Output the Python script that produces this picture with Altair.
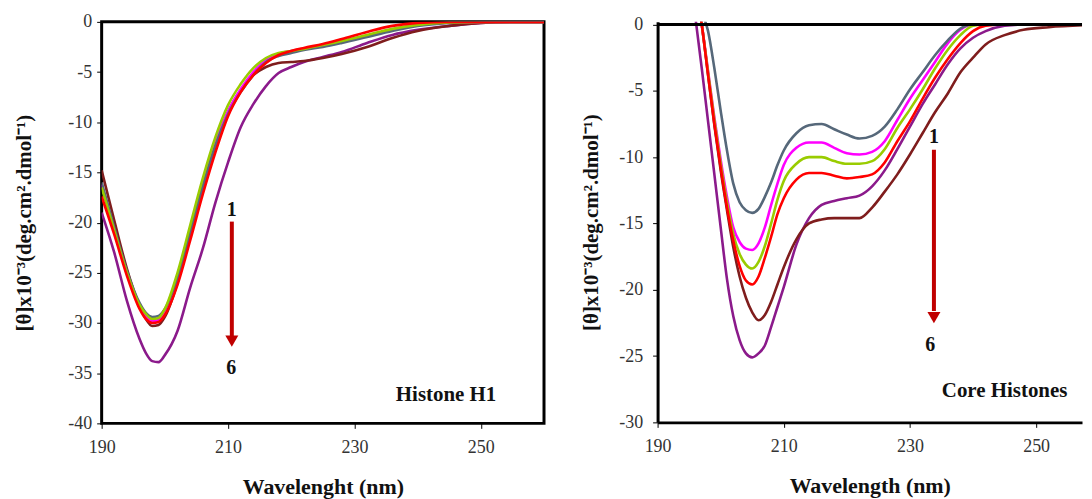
import altair as alt
import pandas as pd

SERIES = ["1", "2", "3", "4", "5", "6"]
COLORS = ["#56687a", "#ff00ff", "#99cc00", "#ff0000", "#7f1d1d", "#8b1a8b"]
DRAW_ORDER = ["6", "5", "2", "1", "3", "4"]

# ---------------- Histone H1 (left panel) ----------------
H1_WL = [190, 192, 194, 196, 197, 198, 199, 200, 202, 204, 206, 208, 210, 212,
         214, 216, 218, 220, 222, 225, 228, 232, 236, 240, 245, 250, 255, 260]
H1_S1 = [-16.0, -20.5, -24.8, -28.0, -29.0, -29.4, -29.3, -28.6, -25.5, -21.0, -16.4, -12.3, -9.2, -7.0,
         -5.3, -4.0, -3.4, -3.1, -2.8, -2.5, -2.1, -1.5, -0.9, -0.4, -0.1, 0.0, 0.0, 0.0]
H1_S2 = [-16.2, -20.7, -25.0, -28.3, -29.3, -29.8, -29.7, -28.9, -25.6, -21.0, -16.3, -12.1, -8.9, -6.7,
         -5.0, -3.8, -3.2, -2.9, -2.7, -2.4, -2.0, -1.4, -0.8, -0.3, -0.05, 0.0, 0.0, 0.0]
H1_S3 = [-16.5, -20.8, -25.0, -28.2, -29.1, -29.6, -29.5, -28.6, -25.0, -20.3, -15.6, -11.5, -8.3, -6.2,
         -4.6, -3.6, -3.1, -2.9, -2.7, -2.3, -1.9, -1.3, -0.7, -0.3, -0.05, 0.0, 0.0, 0.0]
H1_S4 = [-17.4, -21.2, -25.3, -28.6, -29.6, -30.0, -29.9, -29.2, -26.2, -21.8, -17.2, -13.0, -9.4, -7.0,
         -5.3, -4.1, -3.3, -2.9, -2.6, -2.2, -1.7, -1.0, -0.4, -0.1, 0.0, 0.0, 0.0, 0.0]
H1_S5 = [-14.8, -19.8, -24.6, -28.3, -29.6, -30.3, -30.2, -29.4, -26.0, -21.3, -16.6, -12.4, -9.0, -6.8,
         -5.3, -4.5, -4.1, -4.0, -3.9, -3.6, -3.2, -2.5, -1.6, -0.9, -0.4, -0.1, 0.0, 0.0]
H1_S6 = [-19.0, -23.0, -27.8, -31.6, -33.0, -33.8, -33.9, -33.2, -30.8, -26.5, -22.6, -18.0, -14.0, -10.5,
         -8.2, -6.4, -5.1, -4.5, -4.0, -3.5, -3.0, -2.1, -1.3, -0.8, -0.4, -0.1, 0.0, 0.0]

# ---------------- Core histones (right panel) ----------------
CORE_WL = [194, 195, 196, 197, 198, 199, 200, 201, 202, 203, 204, 205, 206, 207, 208, 209, 210,
           212, 214, 216, 218, 220, 222, 224, 226, 228, 230, 232, 234, 236, 238, 240, 242, 245,
           248, 252, 258]
CORE_S1 = [10.0, 6.0, 3.0, 1.0, -0.5, -3.3, -6.5, -9.5, -12.0, -13.4, -14.0, -14.2, -13.9, -13.0, -11.9, -10.6, -9.5,
           -8.2, -7.6, -7.5, -7.9, -8.3, -8.6, -8.4, -7.7, -6.4, -4.9, -3.6, -2.3, -1.2, -0.3, 0.0, 0.0, 0.0,
           0.0, 0.0, 0.0]
CORE_S2 = [10.0, 6.0, 3.0, 0.0, -3.5, -7.0, -10.2, -13.0, -15.3, -16.4, -16.9, -17.0, -16.5, -15.3, -13.6, -12.0, -10.6,
           -9.3, -8.9, -8.9, -9.3, -9.7, -9.8, -9.6, -8.8, -7.2, -5.6, -4.2, -2.8, -1.4, -0.4, 0.0, 0.0, 0.0,
           0.0, 0.0, 0.0]
CORE_S3 = [10.0, 6.0, 3.0, 0.0, -3.6, -7.2, -10.5, -13.4, -15.8, -17.3, -18.1, -18.4, -17.9, -16.7, -15.0, -13.2, -11.8,
           -10.5, -10.0, -10.0, -10.3, -10.5, -10.5, -10.3, -9.4, -7.8, -6.4, -4.9, -3.3, -1.9, -0.8, -0.1, 0.0, 0.0,
           0.0, 0.0, 0.0]
CORE_S4 = [10.0, 6.0, 3.0, 0.0, -3.8, -7.5, -10.8, -13.8, -16.3, -18.2, -19.3, -19.6, -19.0, -17.6, -16.0, -14.3, -13.1,
           -11.7, -11.2, -11.2, -11.4, -11.6, -11.5, -11.3, -10.4, -8.8, -7.3, -5.6, -4.0, -2.6, -1.4, -0.5, -0.1, 0.0,
           0.0, 0.0, 0.0]
CORE_S5 = [10.0, 6.0, 3.0, 0.0, -3.8, -7.6, -11.0, -14.0, -16.8, -19.0, -20.6, -21.7, -22.3, -21.9, -20.9, -19.6, -18.3,
           -16.2, -15.0, -14.7, -14.6, -14.6, -14.6, -13.8, -12.6, -11.3, -9.8, -8.2, -6.6, -5.2, -3.6, -2.5, -1.5, -0.8,
           -0.4, -0.2, -0.05]
CORE_S6 = [8.0, 4.0, 0.5, -3.3, -7.3, -11.3, -15.3, -19.2, -22.0, -23.8, -24.8, -25.1, -24.8, -24.2, -22.8, -21.3, -19.8,
           -16.6, -14.6, -13.6, -13.3, -13.1, -12.9, -12.2, -11.0, -9.4, -7.7, -6.0, -4.5, -3.0, -1.8, -1.0, -0.5, -0.1,
           0.0, 0.0, 0.0]

H1_TICKS_X = [190, 210, 230, 250]
H1_TICKS_Y = [-40, -35, -30, -25, -20, -15, -10, -5, 0]
CORE_TICKS_Y = [-30, -25, -20, -15, -10, -5, 0]

Y_TITLE = "[θ]x10⁻³(deg.cm².dmol⁻¹)"
SERIF = "Liberation Serif"
HYPHEN_LABEL = "replace(datum.label, '\u2212', '-')"


def long_df(wl, series_vals):
    rows = []
    lookup = dict(zip(SERIES, series_vals))
    for name in DRAW_ORDER:
        for w, v in zip(wl, lookup[name]):
            rows.append({"wl": w, "val": v, "s": name})
    return pd.DataFrame(rows)


def panel(df, xdom, ydom, yticks, xtitle, width, height, label, label_pos,
          arrow_x, arrow_top, arrow_bot, head_y, one_pos, six_pos, boxed, ylabel_pad, ytitle_pad):
    x_axis = alt.Axis(values=H1_TICKS_X, title=xtitle, grid=False, labelFlush=False,
                      domain=not boxed, domainColor="black", domainWidth=3,
                      tickColor="black", tickSize=5, tickWidth=1,
                      labelFont=SERIF, labelFontSize=18, labelColor="#333333", labelPadding=10,
                      titleFont=SERIF, titleFontSize=22, titleFontWeight="bold",
                      titleColor="#111111", titlePadding=20)
    y_axis = alt.Axis(values=yticks, title=Y_TITLE, grid=False, labelFlush=False,
                      domain=not boxed, domainColor="black", domainWidth=3,
                      tickColor="black", tickSize=5, tickWidth=1,
                      labelExpr=HYPHEN_LABEL,
                      labelFont=SERIF, labelFontSize=18, labelColor="#333333", labelPadding=ylabel_pad,
                      titleFont=SERIF, titleFontSize=21, titleFontWeight="bold",
                      titleColor="#111111", titlePadding=ytitle_pad)
    x = alt.X("wl:Q", scale=alt.Scale(domain=xdom, nice=False, zero=False), axis=x_axis)
    y = alt.Y("val:Q", scale=alt.Scale(domain=ydom, nice=False, zero=False), axis=y_axis)

    lines = alt.Chart(df).mark_line(strokeWidth=2.6, clip=True, interpolate="monotone").encode(
        x=x, y=y,
        color=alt.Color("s:N", scale=alt.Scale(domain=SERIES, range=COLORS), legend=None),
        detail="s:N",
    )
    ann = pd.DataFrame({"ax": [arrow_x], "at": [arrow_top], "ab": [arrow_bot], "hy": [head_y]})
    arrow = alt.Chart(ann).mark_rule(color="#c00000", strokeWidth=4).encode(
        x="ax:Q", y="at:Q", y2="ab:Q")
    head = alt.Chart(ann).mark_point(shape="triangle-down", size=170, filled=True,
                                     color="#c00000", opacity=1).encode(x="ax:Q", y="hy:Q")
    nums = pd.DataFrame({"tx": [one_pos[0], six_pos[0]], "ty": [one_pos[1], six_pos[1]], "t": ["1", "6"]})
    num_text = alt.Chart(nums).mark_text(font=SERIF, fontSize=20, fontWeight="bold",
                                         color="#111111").encode(x="tx:Q", y="ty:Q", text="t:N")
    lab = pd.DataFrame({"tx": [label_pos[0]], "ty": [label_pos[1]], "t": [label]})
    lab_text = alt.Chart(lab).mark_text(font=SERIF, fontSize=21, fontWeight="bold",
                                        color="#111111").encode(x="tx:Q", y="ty:Q", text="t:N")
    layers = [lines, arrow, head, num_text, lab_text]
    if not boxed:
        top = alt.Chart(pd.DataFrame({"z": [0]})).mark_rule(color="black", strokeWidth=3).encode(y="z:Q")
        layers.append(top)
    ch = alt.layer(*layers).properties(width=width, height=height)
    if boxed:
        ch = ch.properties(view=alt.ViewBackground(stroke="black", strokeWidth=3))
    else:
        ch = ch.properties(view=alt.ViewBackground(strokeWidth=0))
    return ch


left = panel(long_df(H1_WL, [H1_S1, H1_S2, H1_S3, H1_S4, H1_S5, H1_S6]),
             [190, 260], [-40, 0], H1_TICKS_Y, "Wavelenght (nm)", 444, 403,
             "Histone H1", (244.5, -37.2),
             210.6, -19.9, -31.3, -31.8, (210.6, -18.7), (210.5, -34.5), True, 5, 33)

right = panel(long_df(CORE_WL, [CORE_S1, CORE_S2, CORE_S3, CORE_S4, CORE_S5, CORE_S6]),
              [190, 257.27], [-30, 0.2], CORE_TICKS_Y, "Wavelength (nm)", 426, 402,
              "Core Histones", (245.0, -27.6),
              233.8, -9.45, -21.6, -22.1, (233.8, -8.5), (233.2, -24.2), False, 10, 17)

chart = alt.hconcat(left, right, spacing=114, bounds="flush").properties(
    padding={"left": 4, "top": 2, "right": 0, "bottom": 0},
    background="white",
).configure_view(stroke=None)

chart.save("out.html", embed_options={"renderer": "svg", "actions": False})
